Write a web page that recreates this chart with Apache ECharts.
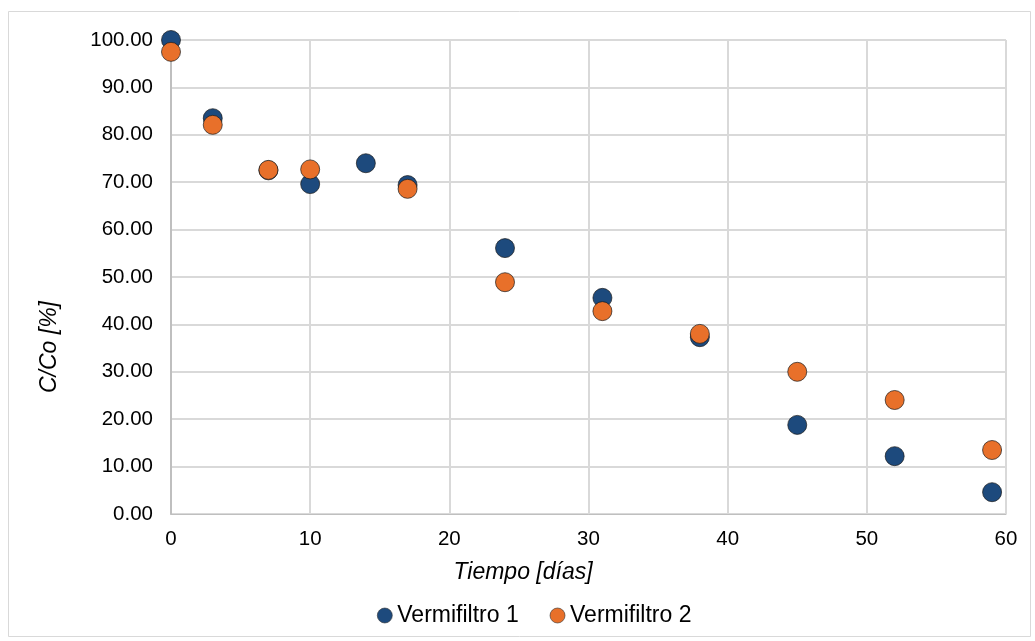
<!DOCTYPE html>
<html><head><meta charset="utf-8">
<script src="https://cdn.jsdelivr.net/npm/echarts@6/dist/echarts.min.js"></script>
<style>html,body{margin:0;padding:0;background:#fff}#c{width:1035px;height:641px}</style>
</head><body><div id="c"></div>
<script>
const seriesNames = ['Vermifiltro 1', 'Vermifiltro 2'];
const x1 = [0, 3, 7, 10, 14, 17, 24, 31, 38, 45, 52, 59];
const y1 = [100.0, 83.5, 72.5, 69.6, 74.0, 69.4, 56.1, 45.6, 37.3, 18.8, 12.2, 4.6];
const x2 = [0, 3, 7, 10, 17, 24, 31, 38, 45, 52, 59];
const y2 = [97.5, 82.1, 72.6, 72.7, 68.6, 48.9, 42.8, 38.0, 30.0, 24.05, 13.5];
const xTitle = 'Tiempo [días]';
const yTitle = 'C/Co [%]';

const chart = echarts.init(document.getElementById('c'), null, {renderer: 'canvas'});
const font = 'Liberation Sans, Arial, sans-serif';
chart.setOption({
  animation: false,
  backgroundColor: '#fff',
  grid: {left: 171, right: 29, top: 40, bottom: 127, containLabel: false},
  xAxis: {
    type: 'value', min: 0, max: 60, interval: 10,
    axisLine: {show: true, lineStyle: {color: '#bfbfbf', width: 1}},
    axisTick: {show: false},
    splitLine: {show: true, lineStyle: {color: '#d9d9d9', width: 2}},
    axisLabel: {color: '#000', fontSize: 20.5, fontFamily: font, margin: 15}
  },
  yAxis: {
    type: 'value', min: 0, max: 100, interval: 10,
    axisLine: {show: true, lineStyle: {color: '#bfbfbf', width: 2}},
    axisTick: {show: false},
    splitLine: {show: true, lineStyle: {color: '#d9d9d9', width: 2}},
    axisLabel: {color: '#000', fontSize: 20.5, fontFamily: font, margin: 18,
      formatter: v => v.toFixed(2)}
  },
  legend: {
    data: seriesNames, top: 599, left: 372,
    icon: 'circle', itemWidth: 15, itemHeight: 15, itemGap: 31,
    itemStyle: {borderColor: '#333', borderWidth: 0.6},
    textStyle: {color: '#000', fontSize: 23, fontFamily: font}
  },
  graphic: [
    {type: 'rect', shape: {x: 8.5, y: 11.5, width: 1022, height: 625}, style: {fill: 'none', stroke: '#d9d9d9', lineWidth: 1}, silent: true, z: -10},
    {type: 'text', x: 523, y: 573, style: {text: xTitle, font: 'italic 23px ' + font, fill: '#000', textAlign: 'center', textVerticalAlign: 'middle'}},
    {type: 'text', x: 50, y: 347, rotation: Math.PI/2, style: {text: yTitle, font: 'italic 23px ' + font, fill: '#000', textAlign: 'center', textVerticalAlign: 'middle'}}
  ],
  series: [
    {name: seriesNames[0], type: 'scatter', symbolSize: 19,
     itemStyle: {color: '#1d4a7d', borderColor: '#1a1a1a', borderWidth: 0.7, opacity: 1},
     data: x1.map((x, i) => [x, y1[i]])},
    {name: seriesNames[1], type: 'scatter', symbolSize: 19,
     itemStyle: {color: '#e8702a', borderColor: '#1a1a1a', borderWidth: 0.7, opacity: 1},
     data: x2.map((x, i) => [x, y2[i]])}
  ]
});
</script></body></html>
